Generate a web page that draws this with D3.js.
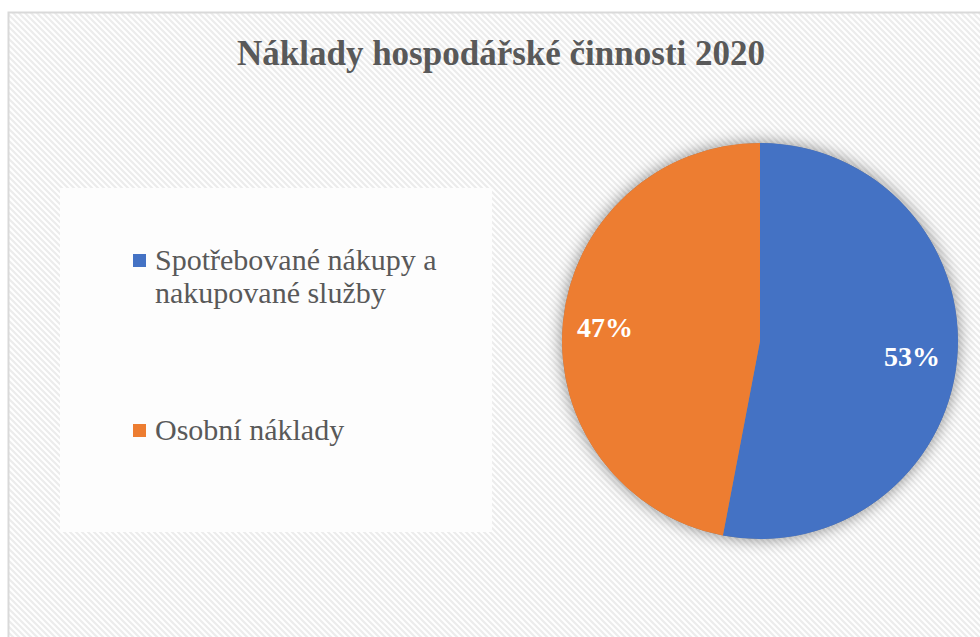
<!DOCTYPE html>
<html>
<head>
<meta charset="utf-8">
<script src="https://cdn.jsdelivr.net/npm/d3@7"></script>
<style>
html,body{margin:0;padding:0;background:#fff;}
svg{display:block;}
</style>
</head>
<body>
<svg id="chart" width="980" height="637"></svg>
<script>
const title = "Náklady hospodářské činnosti 2020";
const categories = ["Spotřebované nákupy a nakupované služby", "Osobní náklady"];
const legendLines = [["Spotřebované nákupy a", "nakupované služby"], ["Osobní náklady"]];
const values = [53, 47];
const colors = ["#4472C4", "#ED7D31"];

const svg = d3.select("#chart");
const defs = svg.append("defs");
const pat = defs.append("pattern").attr("id","hatch").attr("patternUnits","userSpaceOnUse")
  .attr("width",6).attr("height",6);
pat.append("rect").attr("width",6).attr("height",6).attr("fill","#ffffff");
pat.append("path").attr("d","M-1,-1 L7,7 M-1,5 L1,7 M5,-1 L7,1")
  .attr("stroke","#ececec").attr("stroke-width",2.2);

const f = defs.append("filter").attr("id","shadow").attr("x","-20%").attr("y","-20%").attr("width","140%").attr("height","140%");
f.append("feDropShadow").attr("dx",0).attr("dy",0).attr("stdDeviation",8)
  .attr("flood-color","#000").attr("flood-opacity",0.45);

svg.append("rect").attr("x",8.5).attr("y",12.5).attr("width",990).attr("height",640)
  .attr("fill","url(#hatch)").attr("stroke","#d9d9d9").attr("stroke-width",2);

svg.append("text").attr("x",501).attr("y",65).attr("text-anchor","middle")
  .attr("font-family","'Liberation Serif','Times New Roman',serif").attr("font-weight","bold")
  .attr("font-size",35).attr("fill","#595959").text(title);

// legend box
svg.append("rect").attr("x",60).attr("y",188).attr("width",432).attr("height",344).attr("fill","#fdfdfd");

const legendY = [270, 440];
const lg = svg.append("g");
categories.forEach((c,i)=>{
  lg.append("rect").attr("x",133).attr("y",legendY[i]-16).attr("width",13).attr("height",13).attr("fill",colors[i]);
  const t = lg.append("text").attr("x",155).attr("y",legendY[i])
    .attr("font-family","'Liberation Serif','Times New Roman',serif").attr("font-size",30).attr("fill","#595959");
  legendLines[i].forEach((l,j)=>{
    t.append("tspan").attr("x",155).attr("dy", j===0?0:33).text(l);
  });
});

// pie
const cx = 760, cy = 341, r = 198;
const pie = d3.pie().sort(null).value(d=>d);
const arcs = pie(values);
const arc = d3.arc().innerRadius(0).outerRadius(r);
const g = svg.append("g").attr("transform",`translate(${cx},${cy})`);
g.append("circle").attr("r",r).attr("fill","#888").attr("filter","url(#shadow)");
g.selectAll("path.slice").data(arcs).join("path").attr("class","slice")
  .attr("d",arc).attr("fill",(d,i)=>colors[i]);

const labelPos = [[152, 25], [-155, -4]];
g.selectAll("text.lbl").data(arcs).join("text").attr("class","lbl")
  .attr("x",(d,i)=>labelPos[i][0]).attr("y",(d,i)=>labelPos[i][1])
  .attr("text-anchor","middle")
  .attr("font-family","'Liberation Serif','Times New Roman',serif").attr("font-weight","bold")
  .attr("font-size",28).attr("fill","#fff")
  .text(d=>d.data+"%");
</script>
</body>
</html>
